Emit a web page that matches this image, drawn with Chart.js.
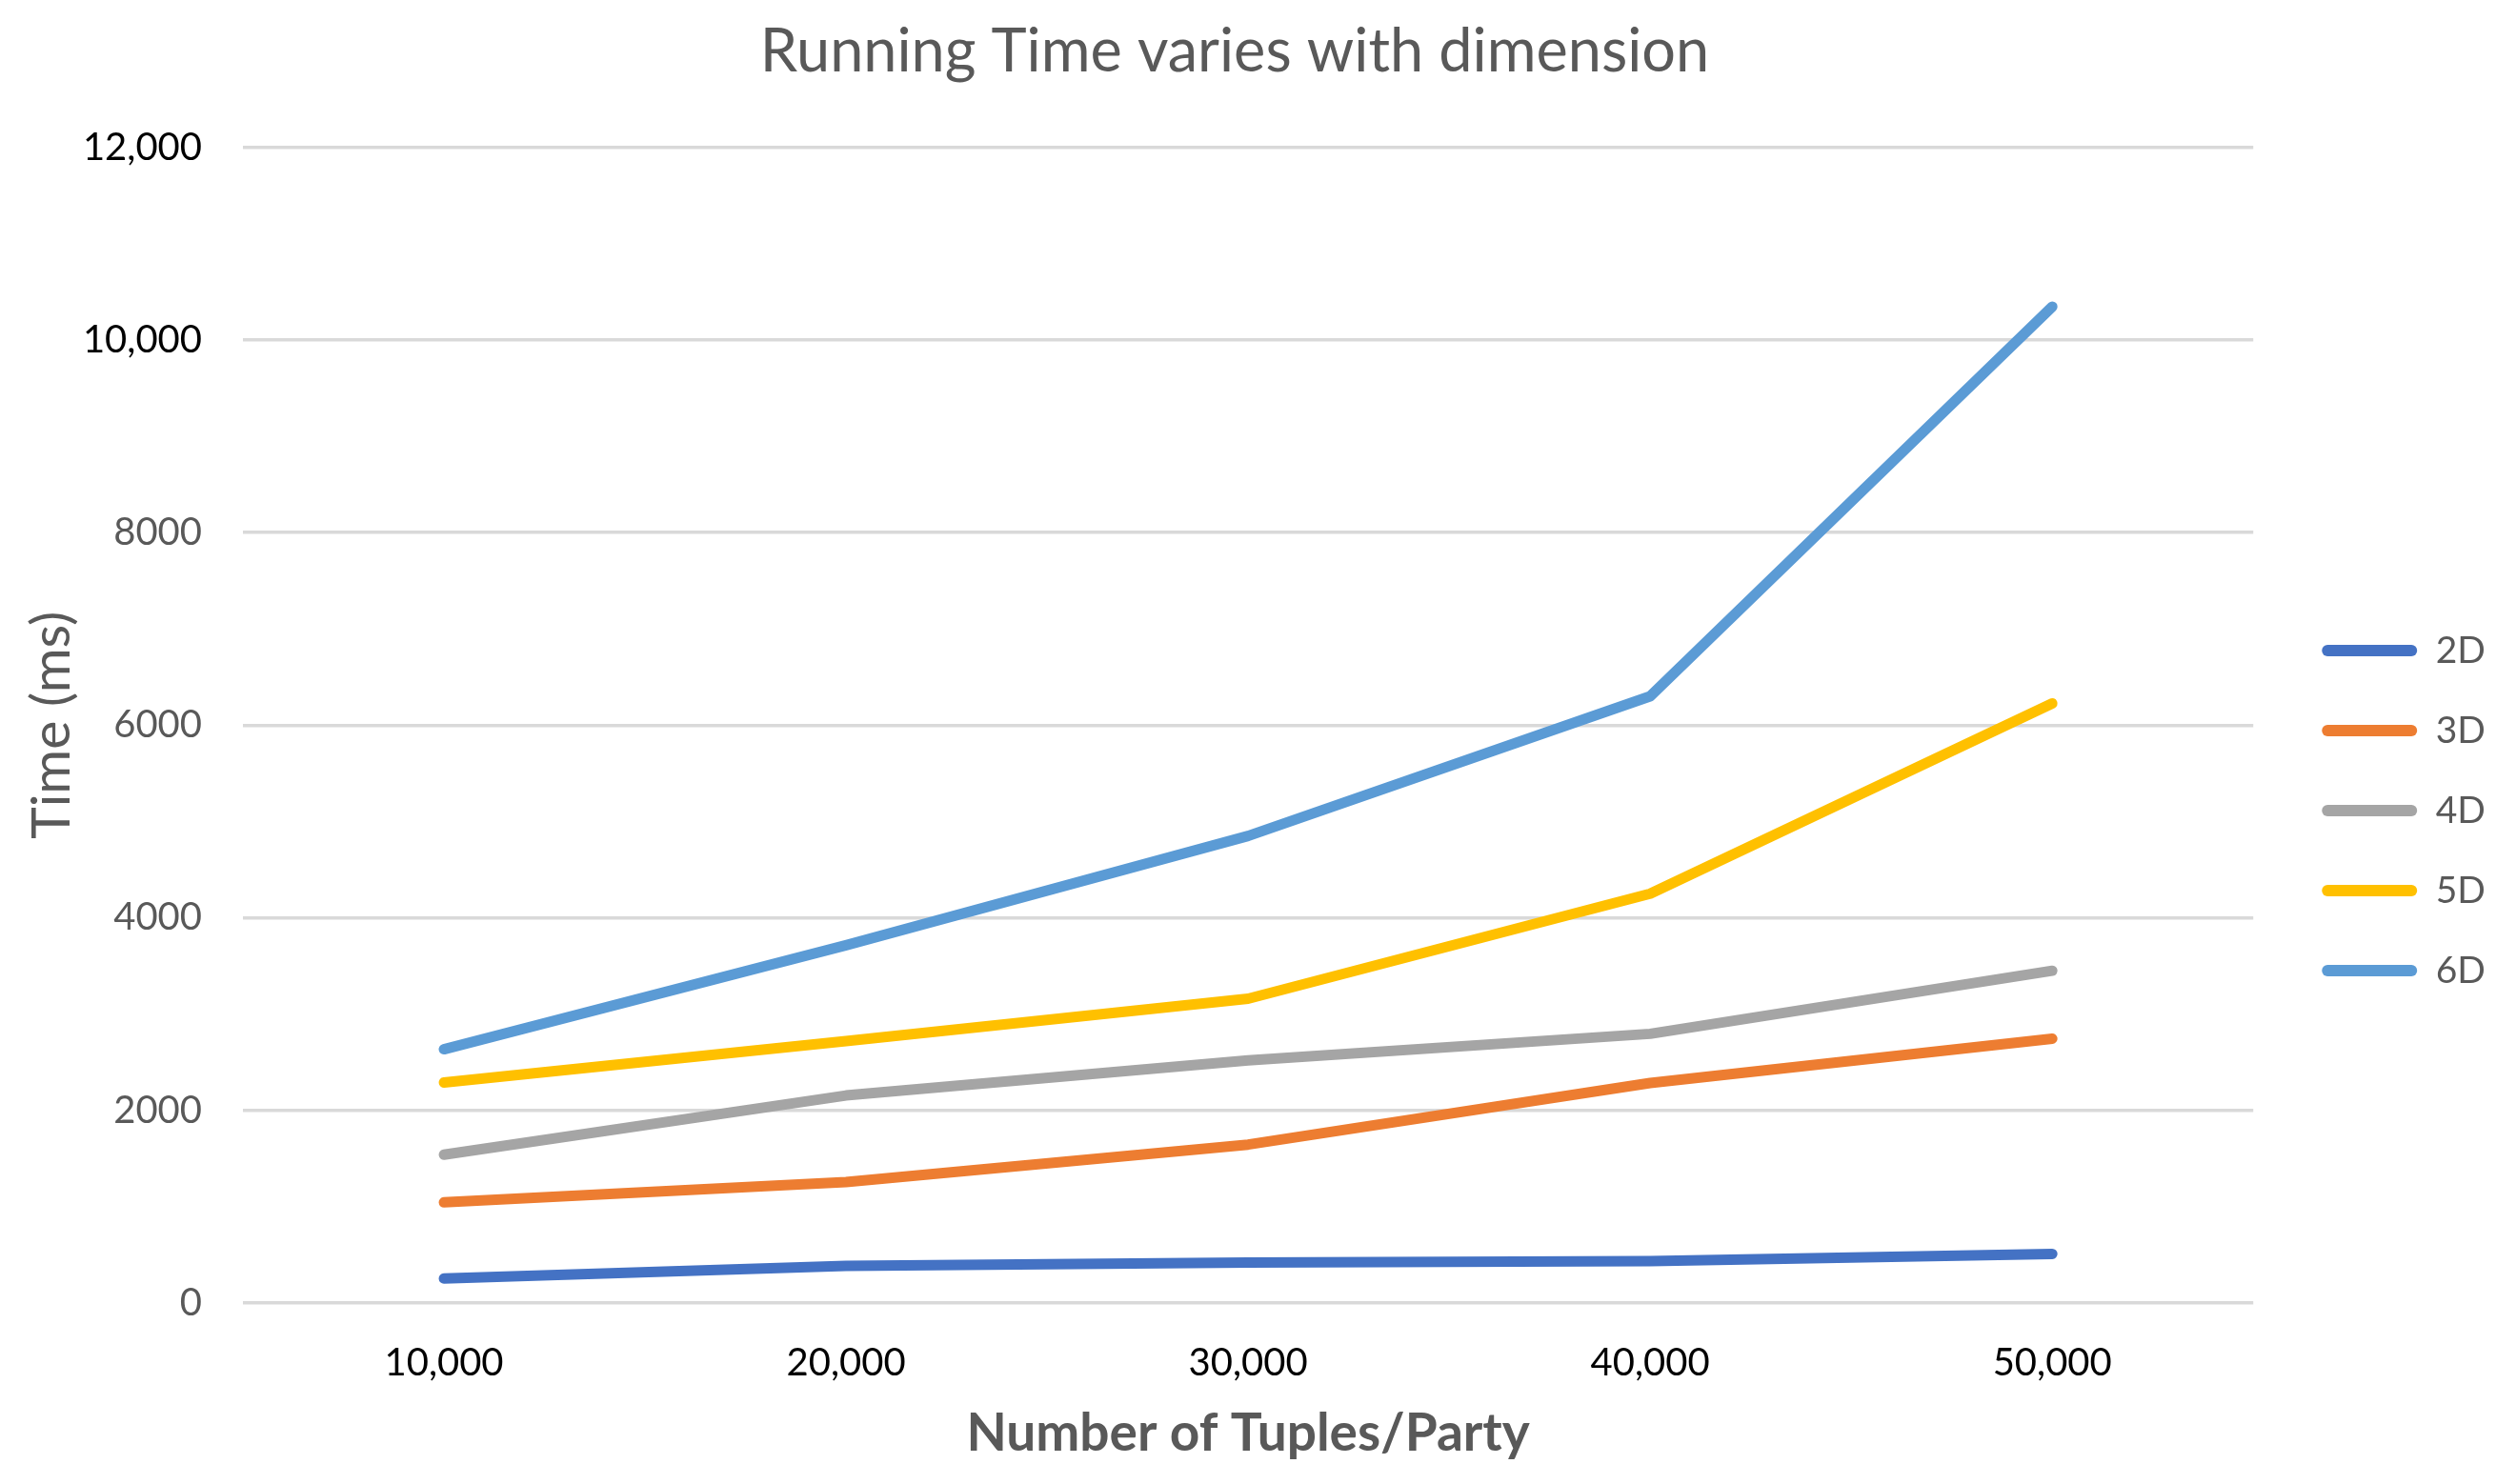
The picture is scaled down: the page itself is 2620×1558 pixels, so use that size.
<!DOCTYPE html>
<html>
<head>
<meta charset="utf-8">
<script src="https://cdn.jsdelivr.net/npm/chart.js@4.4.1/dist/chart.umd.min.js"></script>
<style>
  html, body { margin: 0; padding: 0; background: #fff; }
  #wrap { width: 2620px; height: 1558px; position: relative; }
</style>
</head>
<body>
<div id="wrap"><canvas id="timeChart"></canvas></div>
<script>
const categories = ["10,000", "20,000", "30,000", "40,000", "50,000"];
const seriesNames = ["2D", "3D", "4D", "5D", "6D"];
const time2D = [255, 385, 420, 435, 510];
const time3D = [1045, 1255, 1645, 2285, 2745];
const time4D = [1540, 2155, 2520, 2795, 3450];
const time5D = [2290, 2720, 3160, 4250, 6225];
const time6D = [2635, 3715, 4850, 6300, 10345];
const seriesColors = ["#4472C4", "#ED7D31", "#A5A5A5", "#FFC000", "#5B9BD5"];
const yMax = 12000;
const yStep = 2000;

const grey = "#595959";
const allSeries = [time2D, time3D, time4D, time5D, time6D];

// nudge legend to the right of the plot like the original
const legendShift = {
  id: "legendShift",
  afterLayout(chart) {
    chart.legend.left += 27;
    chart.legend.right += 27;
  }
};

const ctx = document.getElementById("timeChart").getContext("2d");
new Chart(ctx, {
  type: "line",
  data: {
    labels: categories,
    datasets: allSeries.map((vals, i) => ({
      label: seriesNames[i],
      data: vals,
      borderColor: seriesColors[i],
      backgroundColor: seriesColors[i],
      borderWidth: 11,
      borderCapStyle: "round",
      borderJoinStyle: "round",
      pointRadius: 0,
      tension: 0,
      fill: false
    }))
  },
  options: {
    responsive: true,
    maintainAspectRatio: false,
    animation: false,
    layout: { padding: { left: 0, right: 28, top: 0, bottom: 0 } },
    plugins: {
      title: {
        display: true,
        text: "Running Time varies with dimension",
        color: grey,
        font: { family: "Lato", size: 63, weight: "normal", lineHeight: 1.2 },
        padding: { top: 17, bottom: 62 }
      },
      legend: {
        position: "right",
        title: { display: true, text: " ", font: { size: 10, lineHeight: 1 }, padding: { top: 134, bottom: 0 } },
        labels: {
          color: grey,
          font: { family: "Lato", size: 39 },
          boxWidth: 100,
          boxHeight: 12,
          padding: 45,
          useBorderRadius: true,
          borderRadius: 6,
          generateLabels: chart => chart.data.datasets.map((ds, i) => ({
            text: ds.label,
            fillStyle: ds.borderColor,
            strokeStyle: ds.borderColor,
            lineWidth: 0,
            fontColor: grey,
            borderRadius: 6,
            datasetIndex: i
          }))
        }
      },
      tooltip: { enabled: false }
    },
    scales: {
      x: {
        offset: true,
        grid: { display: false, drawTicks: false },
        border: { display: false },
        ticks: { color: "#000", font: { family: "Lato", size: 40 }, padding: 39, maxRotation: 0 },
        title: {
          display: true,
          text: "Number of Tuples/Party",
          color: grey,
          font: { family: "Lato", size: 55, weight: "bold", lineHeight: 1.2 },
          padding: { top: 0, bottom: 20 }
        },
        afterFit: scale => { scale.height = 190; }
      },
      y: {
        min: 0,
        max: yMax,
        grid: { color: "#D9D9D9", lineWidth: 3.5, drawTicks: false },
        border: { display: false },
        ticks: {
          stepSize: yStep,
          padding: 43,
          font: { family: "Lato", size: 40 },
          color: c => c.tick.value >= 10000 ? "#000" : grey,
          callback: v => v >= 10000 ? v.toLocaleString("en-US") : String(v)
        },
        title: {
          display: true,
          text: "Time (ms)",
          color: grey,
          font: { family: "Lato", size: 57, lineHeight: 1.2 },
          padding: { top: 20, bottom: 0 }
        },
        afterFit: scale => { scale.width = 255; }
      }
    }
  },
  plugins: [legendShift]
});
</script>
</body>
</html>
